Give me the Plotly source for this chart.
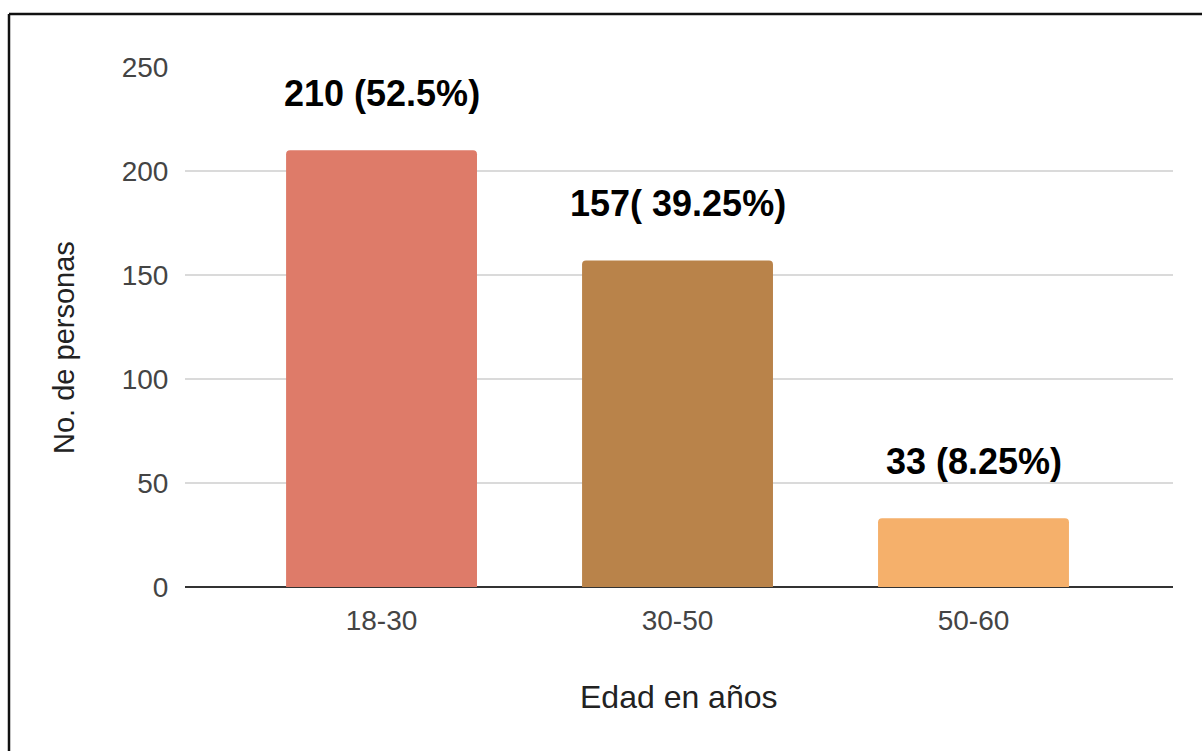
import plotly.graph_objects as go

categories = ["18-30", "30-50", "50-60"]
values = [210, 157, 33]
labels = ["210 (52.5%)", "157( 39.25%)", "33 (8.25%)"]
colors = ["#DE7B69", "#B9834A", "#F5B06B"]
y_ticks = [0, 50, 100, 150, 200, 250]
x_title = "Edad en años"
y_title = "No. de personas"

W, H = 1202, 751
ML, MR, MT, MB = 185, 29, 67, 164
pw, ph = W - ML - MR, H - MT - MB

def px2x(px):
    return (px - ML) / pw

def py2y(py):
    return (H - MB - py) / ph

fig = go.Figure()
fig.add_trace(go.Bar(
    x=categories, y=values,
    marker=dict(color=colors, line=dict(width=0), cornerradius=4),
    hoverinfo="skip",
))

for c, v, t in zip(categories, values, labels):
    fig.add_annotation(x=c, y=v, text="<b>%s</b>" % t, showarrow=False,
                       yanchor="middle", xanchor="center", yshift=57,
                       font=dict(family="Liberation Sans, Arial", size=36, color="#000000"))

# axis titles
fig.add_annotation(xref="paper", yref="paper", x=px2x(679), y=py2y(697),
                   text=x_title, showarrow=False, xanchor="center", yanchor="middle",
                   font=dict(family="Liberation Sans, Arial", size=32, color="#222222"))
fig.add_annotation(xref="paper", yref="paper", x=px2x(64), y=py2y(348),
                   text=y_title, showarrow=False, textangle=-90,
                   xanchor="center", yanchor="middle",
                   font=dict(family="Liberation Sans, Arial", size=29, color="#222222"))

# outer frame (top and left edges only, as in the reference)
fig.add_shape(type="line", xref="paper", yref="paper",
              x0=px2x(9), x1=px2x(W + 5), y0=py2y(14), y1=py2y(14),
              line=dict(color="#111111", width=2.5))
fig.add_shape(type="line", xref="paper", yref="paper",
              x0=px2x(9), x1=px2x(9), y0=py2y(14), y1=py2y(H + 5),
              line=dict(color="#111111", width=2.5))

fig.update_layout(
    width=W, height=H,
    margin=dict(l=ML, r=MR, t=MT, b=MB),
    paper_bgcolor="white", plot_bgcolor="white",
    showlegend=False,
    bargap=0.355,
    font=dict(family="Liberation Sans, Arial", color="#444444"),
    xaxis=dict(
        type="category",
        range=[-0.664, 2.674],
        showgrid=False, showline=False, zeroline=False,
        ticks="outside", ticklen=8, tickcolor="rgba(0,0,0,0)",
        tickfont=dict(size=28, color="#444444"),
    ),
    yaxis=dict(
        range=[0, 250],
        tickvals=y_ticks,
        showgrid=True, gridcolor="#DADADA", gridwidth=1.5,
        zeroline=True, zerolinecolor="#333333", zerolinewidth=2,
        showline=False,
        ticks="outside", ticklen=10, tickcolor="rgba(0,0,0,0)",
        tickfont=dict(size=28, color="#444444"),
    ),
)

fig.write_html("out.html")
